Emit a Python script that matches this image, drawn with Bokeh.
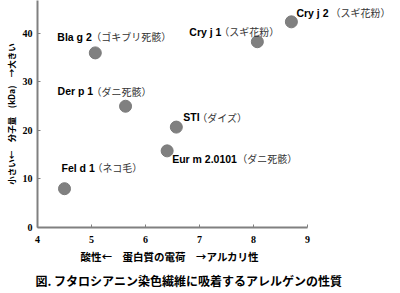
from bokeh.plotting import figure
from bokeh.models import Range1d, ColumnDataSource, FixedTicker, Title
from bokeh.core.properties import value
from bokeh.embed import file_html
from bokeh.resources import INLINE

# ---- data ----
names = ["Bla g 2", "Der p 1", "Fel d 1", "STI", "Eur m 2.0101", "Cry j 1", "Cry j 2"]
origins = ["（ゴキブリ死骸）", "（ダニ死骸）", "（ネコ毛）", "（ダイズ）", "（ダニ死骸）", "（スギ花粉）", "（スギ花粉）"]
charge = [5.07, 5.63, 4.5, 6.57, 6.4, 8.07, 8.7]
mass = [36.0, 25.0, 8.0, 20.7, 15.8, 38.3, 42.4]
x_ticks = [4, 5, 6, 7, 8, 9]
y_ticks = [0, 10, 20, 30, 40]

x_title = "酸性←　蛋白質の電荷　→アルカリ性"
y_title = "小さい←　分子量　(kDa)　→大きい"
caption = "図.  フタロシアニン染色繊維に吸着するアレルゲンの性質"

# ---- label layout (pixel offsets from each point) ----
lab_dx = [-38, -68, -3, 7, 5, -68, 5]
lab_dy = [-16, -15, -21, -10, 8, -10, -9]
jp_dx = [34, 34, 31, 14, 65, 30, 34]

p = figure(width=400, height=293, output_backend="svg", toolbar_location=None,
           x_range=Range1d(4, 10.72), y_range=Range1d(0, 46.8),
           min_border_left=37, min_border_right=0, min_border_top=0,
           min_border_bottom=64)
p.outline_line_color = None
p.grid.visible = False
p.background_fill_color = "white"
p.border_fill_color = "white"

for ax in (p.xaxis[0], p.yaxis[0]):
    ax.axis_line_color = "#808080"
    ax.axis_line_width = 2
    ax.major_tick_line_color = "#808080"
    ax.major_tick_in = 3
    ax.major_tick_out = 0
    ax.minor_tick_line_color = None
    ax.major_label_text_font = "Liberation Serif"
    ax.major_label_text_font_style = "bold"
    ax.major_label_text_font_size = "10px"
    ax.major_label_text_color = "black"

p.xaxis.ticker = FixedTicker(ticks=x_ticks)
p.yaxis.ticker = FixedTicker(ticks=y_ticks)
p.xaxis.bounds = (4, 9)
p.xaxis.major_label_standoff = 8
p.yaxis.major_label_standoff = 5

p.yaxis.axis_label = y_title
p.yaxis.axis_label_text_font = "Noto Sans CJK JP"
p.yaxis.axis_label_text_font_style = "bold"
p.yaxis.axis_label_text_font_size = "8.5px"
p.yaxis.axis_label_text_color = "black"
p.yaxis.axis_label_standoff = 3

src = ColumnDataSource(dict(x=charge, y=mass, name=names, origin=origins,
                            dx=lab_dx, dy=lab_dy,
                            jdx=[a + b for a, b in zip(lab_dx, jp_dx)]))

p.scatter("x", "y", source=src, size=12, fill_color="#808080", line_color="#7a7a7a")

p.text("x", "y", text="name", source=src, x_offset="dx", y_offset="dy",
       text_font=value("Liberation Sans"), text_font_style="bold",
       text_font_size="10.5px", text_color="black",
       text_align="left", text_baseline="middle")
p.text("x", "y", text="origin", source=src, x_offset="jdx", y_offset="dy",
       text_font=value("Noto Sans CJK JP"), text_font_size="10px",
       text_color="#333333", text_align="left", text_baseline="middle")

t1 = Title(text=x_title, align="left", offset=43, standoff=2,
           text_font="Noto Sans CJK JP", text_font_style="bold",
           text_font_size="10.5px", text_color="black")
t2 = Title(text=caption, align="left", offset=-2, standoff=10,
           text_font="Noto Sans CJK JP", text_font_style="bold",
           text_font_size="12px", text_color="black")
p.add_layout(t1, "below")
p.add_layout(t2, "below")

open("out.html", "w").write(file_html(p, INLINE))
